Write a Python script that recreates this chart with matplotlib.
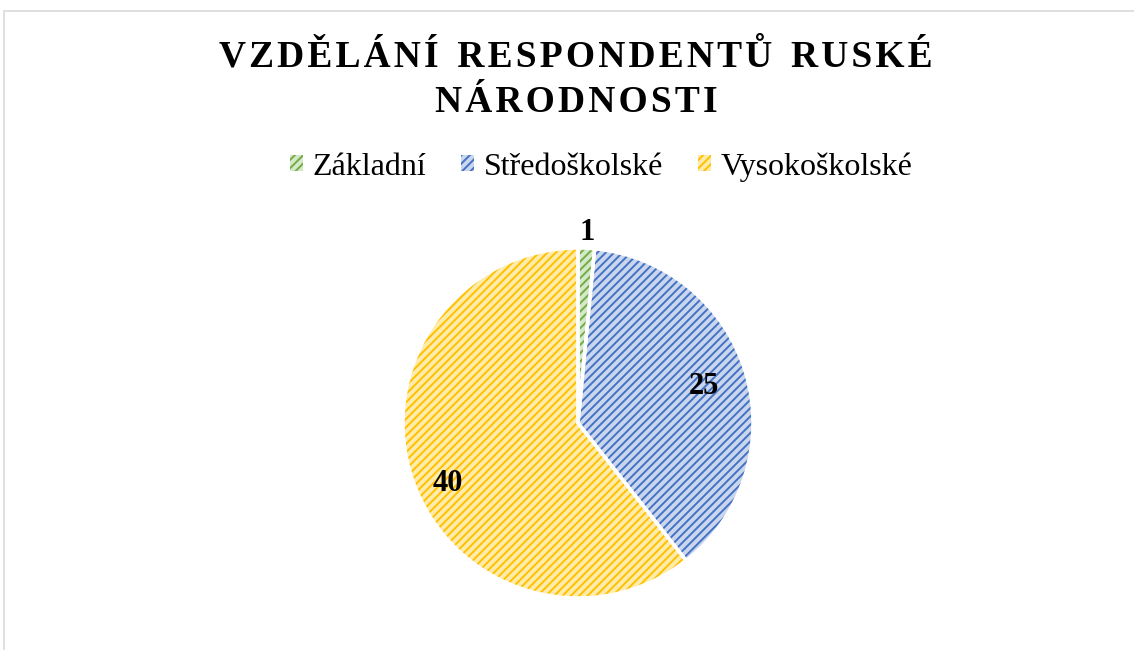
import matplotlib
matplotlib.use("Agg")
import matplotlib.pyplot as plt
from matplotlib.patches import Rectangle, Patch
import numpy as np

# data
categories = ["Základní", "Středoškolské", "Vysokoškolské"]
values = [1, 25, 40]
base_colors = ["#70AD47", "#4472C4", "#FFC000"]
light_colors = ["#D5E8C8", "#C9D6EE", "#FFEBAA"]
label_dist = [1.09, 0.75, 0.82]
label_shift = [0, 0, 6]  # degrees

title_lines = ["VZDĚLÁNÍ RESPONDENTŮ RUSKÉ", "NÁRODNOSTI"]

plt.rcParams["hatch.linewidth"] = 1.4
serif = ["Liberation Serif", "DejaVu Serif"]

fig = plt.figure(figsize=(11.34, 6.5), dpi=100)

# chart area border
fig.patches.append(Rectangle((4 / 1134, -0.1), 1.2, 1 - 11 / 650 + 0.1,
                             transform=fig.transFigure, facecolor="none",
                             edgecolor="#D9D9D9", linewidth=1.2))

cx, cy, r = 578, 423, 175
ax = fig.add_axes([(cx - r) / 1134, (650 - cy - r) / 650, 2 * r / 1134, 2 * r / 650])
ax.set_aspect("equal")

wedges, _ = ax.pie(values, startangle=90, counterclock=False,
                   colors=light_colors,
                   wedgeprops=dict(linewidth=0))
for w, c in zip(wedges, base_colors):
    w.set_hatch("////")
    w.set_edgecolor(c)
# white separators on top
ax.pie(values, startangle=90, counterclock=False,
       colors=["none"] * 3,
       wedgeprops=dict(edgecolor="white", linewidth=2.5))
ax.set_xlim(-1, 1)
ax.set_ylim(-1, 1)
ax.axis("off")

# data labels
for w, v, d, s in zip(wedges, values, label_dist, label_shift):
    ang = np.deg2rad((w.theta1 + w.theta2) / 2 + s)
    ax.text(d * np.cos(ang), d * np.sin(ang), str(v), ha="center", va="center",
            fontsize=22, fontweight="bold", family=serif, color="black")

# title with letter spacing
for i, line in enumerate(title_lines):
    spaced = "\u200a".join(line).replace("\u200a \u200a", "  ")
    fig.text(576 / 1134, 1 - (57 + i * 45) / 650, spaced, ha="center", va="center",
             fontsize=27, fontweight="bold", family=serif, color="black")

handles = [Patch(facecolor=lc, edgecolor=bc, hatch="////", linewidth=0)
           for lc, bc in zip(light_colors, base_colors)]
fig.legend(handles, categories, loc="center", bbox_to_anchor=(601 / 1134, 1 - 167 / 650),
           ncol=3, frameon=False, prop={"family": serif, "size": 23},
           handlelength=0.4, handleheight=0.4, handletextpad=0.3, columnspacing=1.1)

fig.savefig("out.png", dpi=100)
